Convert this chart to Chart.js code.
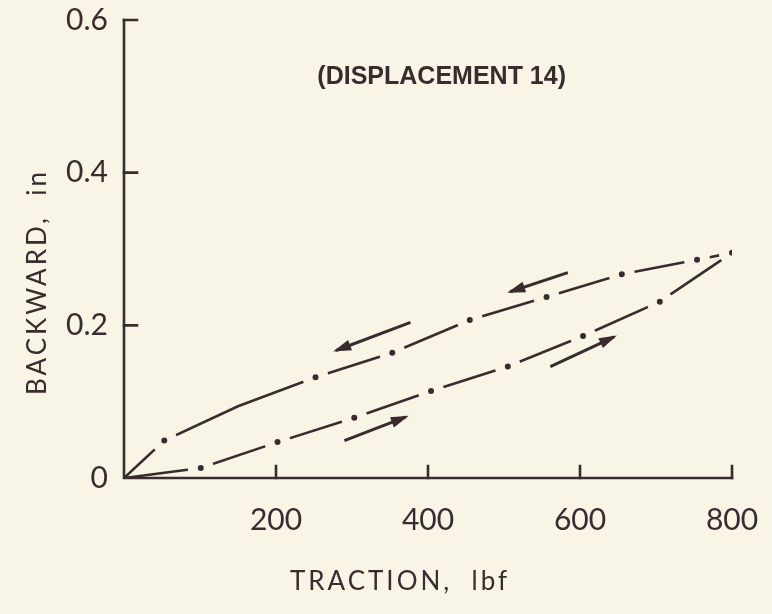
<!DOCTYPE html>
<html>
<head>
<meta charset="utf-8">
<script src="https://cdn.jsdelivr.net/npm/chart.js@4"></script>
<style>
  html, body { margin: 0; padding: 0; background: #f8f5e7; }
  #wrap { width: 772px; height: 614px; position: relative; }
</style>
</head>
<body>
<div id="wrap"><canvas id="chart"></canvas></div>
<script>
// loading branch (traction going up)
const loadX = [0, 101, 202, 303, 404, 505, 604, 705, 800];
const loadY = [0, 0.013, 0.047, 0.079, 0.114, 0.146, 0.186, 0.231, 0.295];
// unloading branch (traction coming back)
const unloadX = [0, 53, 150, 252, 353, 455, 556, 655, 754, 800];
const unloadY = [0, 0.049, 0.094, 0.132, 0.164, 0.207, 0.237, 0.267, 0.286, 0.295];
// which points of each branch carry a dot
const loadDots = [0, 1, 1, 1, 1, 1, 1, 1, 1];
const unloadDots = [0, 1, 0, 1, 1, 1, 1, 1, 1, 1];

// direction arrows: [from, to]
const arrowUpLeftX = [377, 279], arrowUpLeftY = [0.204, 0.167];
const arrowUpRightX = [584, 508], arrowUpRightY = [0.269, 0.244];
const arrowLowLeftX = [290, 371], arrowLowLeftY = [0.049, 0.080];
const arrowLowRightX = [561, 645], arrowLowRightY = [0.146, 0.185];

const xTicks = [0, 200, 400, 600, 800];
const xTickLabels = ['', '200', '400', '600', '800'];
const yTicks = [0, 0.2, 0.4, 0.6];
const yTickLabels = ['0', '0.2', '0.4', '0.6'];

const chartTitle = '(DISPLACEMENT 14)';
const xTitle = 'TRACTION,  lbf';
const yTitle = 'BACKWARD,  in';

const INK = '#3a2b2e';
const BG = '#f8f5e7';

const pts = (xs, ys) => xs.map((x, i) => ({ x: x, y: ys[i] }));

function curve(xs, ys, dots, order) {
  return {
    data: pts(xs, ys),
    borderColor: INK,
    borderWidth: 2.6,
    tension: 0,
    // ink dot with a paper-coloured halo makes the dash-dot gaps
    pointRadius: dots.map(d => d ? 8 : 0),
    pointBorderWidth: 10,
    pointBackgroundColor: INK,
    pointBorderColor: BG,
    order: order
  };
}

function arrow(xs, ys) {
  return {
    data: pts(xs, ys),
    borderColor: INK,
    borderWidth: 3,
    pointRadius: 0,
    arrow: true,
    order: 0
  };
}

const inkPlugin = {
  id: 'ink',
  afterDatasetsDraw(chart) {
    const ctx = chart.ctx;
    const x = chart.scales.x, y = chart.scales.y;
    const x0 = x.getPixelForValue(0), y0 = y.getPixelForValue(0);
    ctx.save();
    ctx.strokeStyle = INK;
    ctx.fillStyle = INK;
    ctx.lineWidth = 2.6;
    ctx.lineCap = 'square';
    // axes
    ctx.beginPath();
    ctx.moveTo(x0, y.getPixelForValue(0.6));
    ctx.lineTo(x0, y0);
    ctx.lineTo(x.getPixelForValue(800), y0);
    ctx.stroke();
    // inward ticks
    ctx.beginPath();
    xTicks.slice(1).forEach(v => {
      const px = x.getPixelForValue(v);
      ctx.moveTo(px, y0);
      ctx.lineTo(px, y0 - 12);
    });
    yTicks.slice(1).forEach(v => {
      const py = y.getPixelForValue(v);
      ctx.moveTo(x0, py);
      ctx.lineTo(x0 + 13, py);
    });
    ctx.stroke();
    // arrow heads
    chart.data.datasets.forEach((ds, i) => {
      if (!ds.arrow) return;
      const p = chart.getDatasetMeta(i).data;
      const a = p[p.length - 2], b = p[p.length - 1];
      const ang = Math.atan2(b.y - a.y, b.x - a.x);
      ctx.save();
      ctx.translate(b.x, b.y);
      ctx.rotate(ang);
      ctx.beginPath();
      ctx.moveTo(3, 0);
      ctx.lineTo(-15, -5.5);
      ctx.lineTo(-15, 5.5);
      ctx.closePath();
      ctx.fill();
      ctx.restore();
    });
    // texts
    ctx.textAlign = 'center';
    ctx.textBaseline = 'middle';
    ctx.font = 'bold 25px "Liberation Sans Narrow", "Liberation Sans", sans-serif';
    ctx.fillText(chartTitle, x.getPixelForValue(418), y.getPixelForValue(0.525));
    ctx.font = '26px Lato, "DejaVu Sans", sans-serif';
    ctx.letterSpacing = '3px';
    ctx.fillText(xTitle, 400, 582);
    ctx.save();
    ctx.translate(38, 282);
    ctx.rotate(-Math.PI / 2);
    ctx.fillText(yTitle, 0, 0);
    ctx.restore();
    ctx.restore();
  }
};

// keep the plot frame where the reference has it
function noPad(s) {
  s.paddingTop = 0; s.paddingBottom = 0;
  s.paddingLeft = 0; s.paddingRight = 0;
}

new Chart(document.getElementById('chart').getContext('2d'), {
  type: 'scatter',
  data: {
    datasets: [
      curve(loadX, loadY, loadDots, 1),
      curve(unloadX, unloadY, unloadDots, 2),
      arrow(arrowUpLeftX, arrowUpLeftY),
      arrow(arrowUpRightX, arrowUpRightY),
      arrow(arrowLowLeftX, arrowLowLeftY),
      arrow(arrowLowRightX, arrowLowRightY)
    ].map(d => Object.assign({ showLine: true }, d))
  },
  options: {
    responsive: true,
    maintainAspectRatio: false,
    animation: false,
    events: [],
    layout: { padding: { left: 0, right: 40, top: 20, bottom: 0 } },
    plugins: { legend: { display: false }, tooltip: { enabled: false } },
    scales: {
      x: {
        type: 'linear',
        min: 0, max: 800,
        grid: { display: false, drawTicks: false },
        border: { display: false },
        afterBuildTicks: s => { s.ticks = xTicks.map(v => ({ value: v })); },
        afterFit: s => { s.height = 136; noPad(s); },
        ticks: {
          color: INK,
          padding: 24,
          maxRotation: 0,
          font: { family: 'Lato, "DejaVu Sans", sans-serif', size: 30 },
          callback: (v, i) => xTickLabels[i]
        }
      },
      y: {
        type: 'linear',
        min: 0, max: 0.6,
        grid: { display: false, drawTicks: false },
        border: { display: false },
        afterBuildTicks: s => { s.ticks = yTicks.map(v => ({ value: v })); },
        afterFit: s => { s.width = 124; noPad(s); },
        ticks: {
          color: INK,
          padding: 16,
          font: { family: 'Lato, "DejaVu Sans", sans-serif', size: 30 },
          callback: (v, i) => yTickLabels[i]
        }
      }
    }
  },
  plugins: [inkPlugin]
});
</script>
</body>
</html>
